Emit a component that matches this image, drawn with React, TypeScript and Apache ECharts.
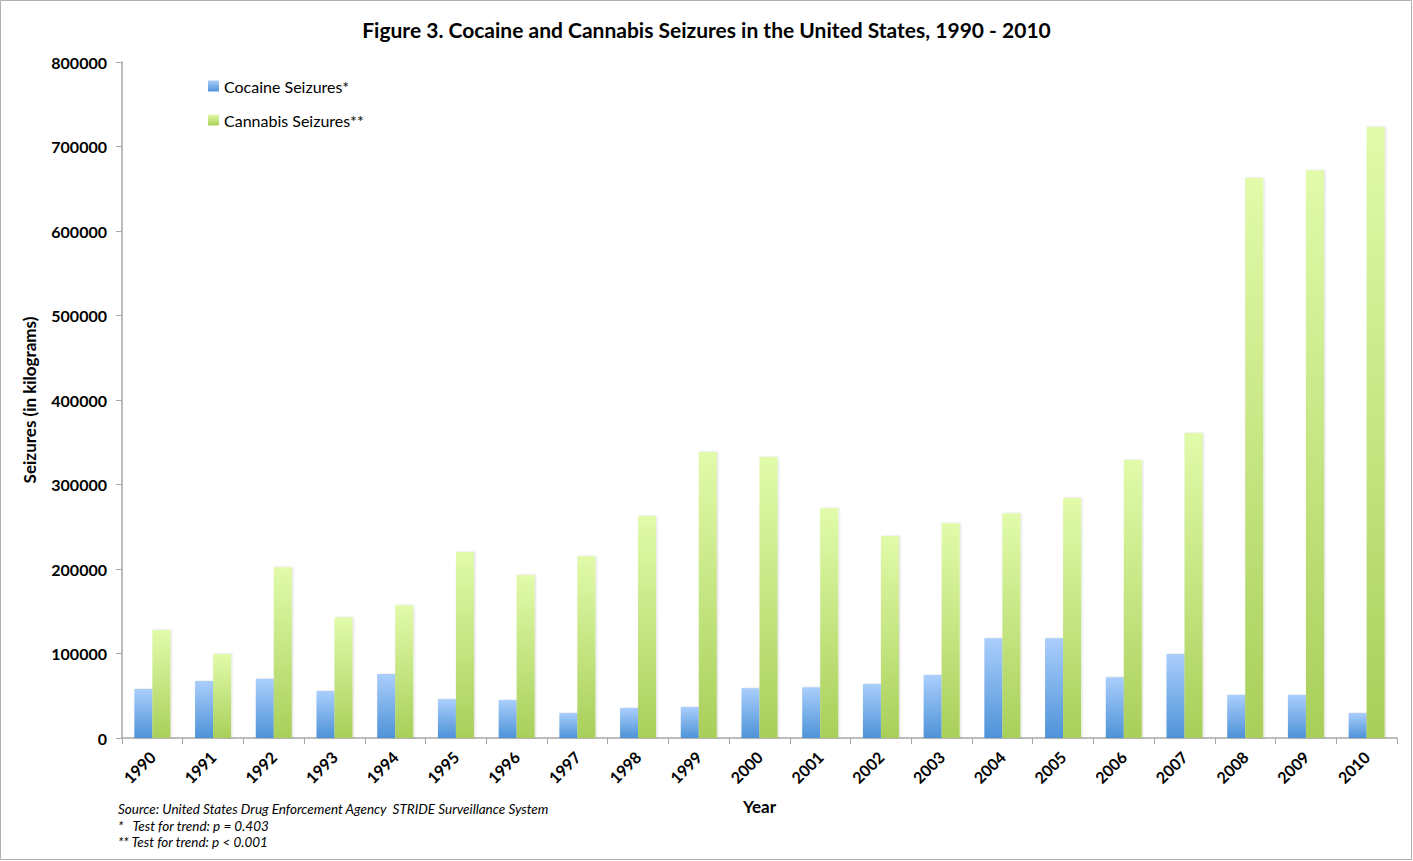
import React, { useEffect, useRef } from "react";
import * as echarts from "echarts";

const years = ["1990","1991","1992","1993","1994","1995","1996","1997","1998","1999","2000","2001","2002","2003","2004","2005","2006","2007","2008","2009","2010"];
const cocaine = [58000,67500,70000,55600,75700,46000,45000,29600,35500,36700,59000,60000,64000,74500,118000,118000,72000,99400,51000,51000,29600];
const cannabis = [127800,99400,202000,143000,157000,220000,193000,215000,262700,338500,332500,272000,239000,254000,266000,284000,329000,361000,662700,672000,723000];

const FONT = "Lato, 'Noto Sans', sans-serif";

export default function App() {
  const ref = useRef<HTMLDivElement>(null);
  useEffect(() => {
    const chart = echarts.init(ref.current!, null, { renderer: "svg" });
    const grad = (top: string, bottom: string) =>
      new echarts.graphic.LinearGradient(0, 0, 0, 1, [
        { offset: 0, color: top },
        { offset: 1, color: bottom },
      ]);
    chart.setOption({
      animation: false,
      backgroundColor: "#ffffff",
      textStyle: { fontFamily: FONT },
      title: {
        text: "Figure 3. Cocaine and Cannabis Seizures in the United States, 1990 - 2010",
        left: "center",
        top: 14,
        textStyle: { fontSize: 21, fontWeight: "bold", color: "#000", fontFamily: FONT },
      },
      legend: {
        orient: "vertical",
        left: 203,
        top: 73,
        itemGap: 18,
        itemWidth: 11,
        itemHeight: 11,
        icon: "rect",
        textStyle: { fontSize: 16, color: "#000", fontFamily: FONT },
        data: ["Cocaine Seizures*", "Cannabis Seizures**"],
      },
      graphic: [
        {
          type: "rect",
          shape: { x: 0.5, y: 0.5, width: 1411, height: 859 },
          style: { fill: "none", stroke: "#b0b0b0", lineWidth: 1 },
          silent: true,
        },
        {
          type: "text",
          left: 118,
          top: 801,
          style: {
            text: "Source: United States Drug Enforcement Agency  STRIDE Surveillance System\n*   Test for trend: p = 0.403\n** Test for trend: p < 0.001",
            font: "italic 13.5px " + FONT,
            fill: "#000",
            lineHeight: 16.5,
          },
        },
      ],
      grid: { left: 122, right: 16, top: 62, bottom: 123, containLabel: false },
      xAxis: {
        type: "category",
        data: years,
        name: "Year",
        nameLocation: "middle",
        nameGap: 60,
        nameTextStyle: { fontSize: 17, fontWeight: "bold", color: "#000" },
        axisLine: { lineStyle: { color: "#a6a6a6", width: 1.5 } },
        axisTick: { show: true, alignWithLabel: false, length: 6, lineStyle: { color: "#a6a6a6" } },
        axisLabel: { rotate: 45, fontSize: 16, fontWeight: "bold", color: "#000", margin: 16, interval: 0 },
      },
      yAxis: {
        type: "value",
        min: 0,
        max: 800000,
        interval: 100000,
        name: "Seizures (in kilograms)",
        nameLocation: "middle",
        nameGap: 84,
        nameTextStyle: { fontSize: 17, fontWeight: "bold", color: "#000" },
        axisLine: { show: true, lineStyle: { color: "#a6a6a6", width: 1.5 } },
        axisTick: { show: true, inside: false, length: 6, lineStyle: { color: "#a6a6a6" } },
        splitLine: { show: false },
        axisLabel: {
          fontSize: 16,
          fontWeight: "bold",
          color: "#000",
          margin: 15,
          formatter: (v: number) => String(v),
        },
      },
      series: [
        {
          name: "Cocaine Seizures*",
          type: "bar",
          data: cocaine,
          barWidth: 18,
          barGap: "0%",
          itemStyle: {
            color: grad("#aacefc", "#4e93d8"),
            shadowColor: "rgba(0,0,0,0.15)",
            shadowBlur: 2,
            shadowOffsetX: 1,
          },
        },
        {
          name: "Cannabis Seizures**",
          type: "bar",
          data: cannabis,
          barWidth: 18,
          barGap: "0%",
          itemStyle: {
            color: grad("#e1fbaa", "#a9cf5a"),
            shadowColor: "rgba(0,0,0,0.15)",
            shadowBlur: 2,
            shadowOffsetX: 1,
          },
        },
      ],
    });
    return () => chart.dispose();
  }, []);
  return (
    <div
      ref={ref}
      style={{ position: "fixed", left: 0, top: 0, width: 1413, height: 861 }}
    />
  );
}
